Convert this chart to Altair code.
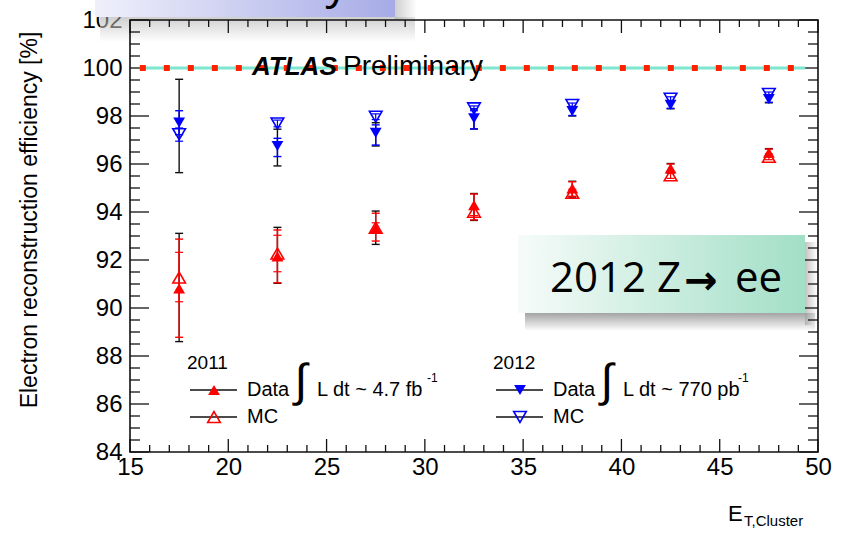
import altair as alt
import pandas as pd

# ---------------------------------------------------------------- data
# E_T bin centres [GeV]
et_bins = [17.5, 22.5, 27.5, 32.5, 37.5, 42.5, 47.5]

# reconstruction efficiency [%]
eff_2011_data = [90.82, 92.15, 93.32, 94.29, 94.98, 95.82, 96.47]
eff_2011_mc = [91.27, 92.27, 93.35, 94.01, 94.80, 95.53, 96.30]
eff_2012_data = [97.72, 96.75, 97.30, 97.90, 98.20, 98.46, 98.70]
eff_2012_mc = [97.24, 97.69, 97.97, 98.32, 98.46, 98.72, 98.92]

# total uncertainty on data (black bars)
tot_2011_lo = [88.60, 91.03, 92.65, 93.65, 94.62, 95.62, 96.30]
tot_2011_hi = [93.11, 93.36, 94.04, 94.77, 95.28, 96.02, 96.64]
tot_2012_lo = [95.64, 95.92, 96.75, 97.46, 98.00, 98.30, 98.55]
tot_2012_hi = [99.53, 97.45, 97.72, 98.30, 98.40, 98.62, 98.85]

# statistical uncertainty on data (coloured bars)
stat_2011_lo = [88.78, 91.05, 92.79, 93.67, 94.65, 95.65, 96.33]
stat_2011_hi = [92.87, 93.25, 93.95, 94.75, 95.26, 96.00, 96.62]
stat_2012_lo = [97.22, 96.31, 96.79, 97.46, 98.02, 98.32, 98.57]
stat_2012_hi = [98.22, 97.07, 97.63, 98.30, 98.38, 98.60, 98.83]

# MC uncertainty
mc_2011_lo = [90.26, 91.51, 93.15, 93.85, 94.65, 95.40, 96.18]
mc_2011_hi = [92.32, 93.03, 93.55, 94.17, 94.95, 95.66, 96.42]
mc_2012_lo = [96.95, 97.55, 97.85, 98.22, 98.38, 98.64, 98.84]
mc_2012_hi = [97.50, 97.83, 98.09, 98.42, 98.54, 98.80, 99.00]

# 100 % reference line
ref_level = [100.0]
ref_span = [15.5, 49.35]

# axis ticks
x_major = [15, 20, 25, 30, 35, 40, 45, 50]
x_minor = [v for v in range(15, 51) if v % 5 != 0]
y_major = [84, 86, 88, 90, 92, 94, 96, 98, 100, 102]
y_minor = [84 + 0.5 * i for i in range(37) if (84 + 0.5 * i) % 2 != 0]

# text
y_title = "Electron reconstruction efficiency [%]"
x_title_main = "E"
x_title_sub = "T,Cluster"
atlas_label = ["ATLAS", "Preliminary"]
legend_years = ["2011", "2012"]
legend_entries = ["Data", "MC"]
legend_lumi = ["L dt ~ 4.7 fb", "L dt ~ 770 pb"]
legend_lumi_exp = ["-1", "-1"]
banner_parts = ["2012 Z", "\u2192", "ee"]
top_banner_text = "efficiency"

# ---------------------------------------------------------------- layout
W, H = 688, 432
FONT = "Liberation Sans"
RED = "#ff0000"
BLUE = "#0000ff"
BLACK = "#111111"

x_scale = alt.Scale(domain=[15, 50], nice=False, zero=False)
y_scale = alt.Scale(domain=[84, 102], nice=False, zero=False)

x_axis = alt.Axis(values=x_major, ticks=False, domain=False, grid=False,
                  labelFont=FONT, labelFontSize=24, labelColor="black",
                  labelPadding=3, labelFlush=False, labelOverlap=False,
                  title=None)
y_axis = alt.Axis(values=y_major, ticks=False, domain=False, grid=False,
                  labelFont=FONT, labelFontSize=24, labelColor="black",
                  labelPadding=8, labelFlush=False, labelOverlap=False,
                  title=None)


def X(field):
    return alt.X(field, type="quantitative", scale=x_scale, axis=x_axis)


def Y(field):
    return alt.Y(field, type="quantitative", scale=y_scale, axis=y_axis)


one = pd.DataFrame({"k": [0]})


def text(s, x, y, size, align="left", baseline="alphabetic", font=FONT,
         weight="normal", style="normal", angle=0, color="black"):
    kw = dict(align=align, baseline=baseline, font=font, fontSize=size,
              fontWeight=weight, fontStyle=style, color=color)
    if angle:
        kw["angle"] = angle
    return alt.Chart(one).mark_text(**kw).encode(
        x=alt.value(x), y=alt.value(y), text=alt.value(s))


def gradient(c0, c1, horizontal=True):
    if horizontal:
        return alt.Gradient(gradient="linear",
                            stops=[alt.GradientStop(color=c0, offset=0),
                                   alt.GradientStop(color=c1, offset=1)],
                            x1=0, x2=1, y1=0, y2=0)
    return alt.Gradient(gradient="linear",
                        stops=[alt.GradientStop(color=c0, offset=0),
                               alt.GradientStop(color=c1, offset=1)],
                        x1=0, x2=0, y1=0, y2=1)


def box(x0, x1, y0, y1, fill, opacity=1.0):
    return alt.Chart(one).mark_rect(fill=fill, opacity=opacity).encode(
        x=alt.value(x0), x2=alt.value(x1), y=alt.value(y0), y2=alt.value(y1))


layers = []

# soft shadows of the two annotation boxes
layers.append(box(-30, 285, -3, 22, gradient("#a8a8a8", "#ffffff", False), 0.55))
layers.append(box(265, 287, -20, 0, gradient("#a8a8a8", "#ffffff", True), 0.55))
layers.append(box(395, 685, 293, 311, gradient("#858585", "#ffffff", False), 0.75))
layers.append(box(675, 687, 222, 305, gradient("#9a9a9a", "#ffffff", True), 0.6))

# inward-pointing tick marks on all four sides
ydf_major = pd.DataFrame({"v": y_major})
ydf_minor = pd.DataFrame({"v": y_minor})
xdf_major = pd.DataFrame({"v": x_major})
xdf_minor = pd.DataFrame({"v": x_minor})
tick_style = dict(color=BLACK, strokeWidth=1.3)
for df, ln in [(ydf_major, 19), (ydf_minor, 10)]:
    layers.append(alt.Chart(df).mark_rule(**tick_style).encode(
        y=Y("v"), x=alt.value(0), x2=alt.value(ln)))
    layers.append(alt.Chart(df).mark_rule(**tick_style).encode(
        y=Y("v"), x=alt.value(W - ln), x2=alt.value(W)))
for df, ln in [(xdf_major, 13), (xdf_minor, 7)]:
    layers.append(alt.Chart(df).mark_rule(**tick_style).encode(
        x=X("v"), y=alt.value(H - ln), y2=alt.value(H)))
    layers.append(alt.Chart(df).mark_rule(**tick_style).encode(
        x=X("v"), y=alt.value(0), y2=alt.value(ln)))

# frame
layers.append(alt.Chart(one).mark_rect(fillOpacity=0, stroke=BLACK, strokeWidth=1.6).encode(
    x=alt.value(0), x2=alt.value(W), y=alt.value(0), y2=alt.value(H)))

# 100 % reference: cyan line with red dotted overlay
ref_df = pd.DataFrame({"x0": [ref_span[0]], "x1": [ref_span[1]], "y": ref_level})
layers.append(alt.Chart(ref_df).mark_rule(color="#7fe6cf", strokeWidth=3).encode(
    x=X("x0"), x2=alt.X2("x1"), y=Y("y")))
layers.append(alt.Chart(ref_df).mark_rule(color="#ff2200", strokeWidth=6,
                                          strokeDash=[6, 18], strokeCap="butt").encode(
    x=X("x0"), x2=alt.X2("x1"), y=Y("y")))


def error_bars(lo, hi, color, width=1.4, cap=4):
    df = pd.DataFrame({"et": et_bins, "lo": lo, "hi": hi})
    out = [alt.Chart(df).mark_rule(color=color, strokeWidth=width).encode(
        x=X("et"), y=Y("lo"), y2=alt.Y2("hi"))]
    for end in ["lo", "hi"]:
        out.append(alt.Chart(df).mark_rule(color=color, strokeWidth=width,
                                           xOffset=-cap, x2Offset=cap).encode(
            x=X("et"), x2=alt.X2("et"), y=Y(end)))
    return out


layers += error_bars(tot_2011_lo, tot_2011_hi, BLACK)
layers += error_bars(tot_2012_lo, tot_2012_hi, BLACK)
layers += error_bars(stat_2011_lo, stat_2011_hi, RED)
layers += error_bars(stat_2012_lo, stat_2012_hi, BLUE)
layers += error_bars(mc_2011_lo, mc_2011_hi, RED, width=1.2)
layers += error_bars(mc_2012_lo, mc_2012_hi, BLUE, width=1.2)


def markers(values, shape, color, filled):
    df = pd.DataFrame({"et": et_bins, "eff": values})
    if filled:
        mk = alt.Chart(df).mark_point(shape=shape, filled=True, size=140,
                                      color=color, opacity=1)
    else:
        mk = alt.Chart(df).mark_point(shape=shape, filled=False, size=160,
                                      color=color, strokeWidth=1.6, opacity=1)
    return mk.encode(x=X("et"), y=Y("eff"))


layers.append(markers(eff_2011_mc, "triangle-up", RED, False))
layers.append(markers(eff_2011_data, "triangle-up", RED, True))
layers.append(markers(eff_2012_mc, "triangle-down", BLUE, False))
layers.append(markers(eff_2012_data, "triangle-down", BLUE, True))

# ATLAS label
layers.append(text(atlas_label[0], 122, 55, 26, weight="bold", style="italic"))
layers.append(text(atlas_label[1], 213, 55, 28))

# legend (two columns: 2011 and 2012)
for i, (x0, shape, color) in enumerate([(57, "triangle-up", RED),
                                         (363, "triangle-down", BLUE)]):
    lx = x0 + 3
    layers.append(text(legend_years[i], x0, 349, 19))
    for row, (yy, filled) in enumerate([(370, True), (397, False)]):
        layers.append(alt.Chart(one).mark_rule(color=BLACK, strokeWidth=1.5).encode(
            x=alt.value(lx), x2=alt.value(lx + 47), y=alt.value(yy)))
        if filled:
            mk = alt.Chart(one).mark_point(shape=shape, filled=True, size=140,
                                           color=color, opacity=1)
        else:
            mk = alt.Chart(one).mark_point(shape=shape, filled=False, size=160,
                                           color=color, strokeWidth=1.6, opacity=1)
        layers.append(mk.encode(x=alt.value(lx + 24), y=alt.value(yy)))
        layers.append(text(legend_entries[row], lx + 57, yy + 6, 20))
    layers.append(text("\u222b", lx + 111, 362, 46, align="center",
                       baseline="middle", font="Liberation Sans"))
    layers.append(text(legend_lumi[i], lx + 127, 376, 20))
    layers.append(text(legend_lumi_exp[i], lx + 237 if i == 0 else lx + 242, 362, 12))

# axis titles
layers.append(text(y_title, -100, 200, 23, align="center", baseline="middle", angle=270))
layers.append(text(x_title_main, 598, 501, 22))
layers.append(text(x_title_sub, 614, 506, 15))

# annotation boxes
layers.append(box(-35, 265, -20, -3, gradient("#f0f0fb", "#a6abe6")))
layers.append(text(top_banner_text, 118, -22, 46, align="center", font="Open Sans"))
layers.append(box(388, 675, 215, 293, gradient("#f6fbf9", "#a2dfc7")))
layers.append(text(banner_parts[0], 420, 272, 42, font="Open Sans"))
layers.append(text(banner_parts[1], 571, 262, 40, align="center", baseline="middle",
                   font="DejaVu Sans", weight="bold"))
layers.append(text(banner_parts[2], 605, 272, 42, font="Open Sans"))

chart = alt.layer(*layers).properties(
    width=W, height=H,
    padding={"left": 130, "top": 20, "right": 26, "bottom": 82},
    autosize=alt.AutoSizeParams(type="none"),
    background="white",
).configure_view(stroke=None)

chart.save("out.html", embed_options={"renderer": "svg", "actions": False})
